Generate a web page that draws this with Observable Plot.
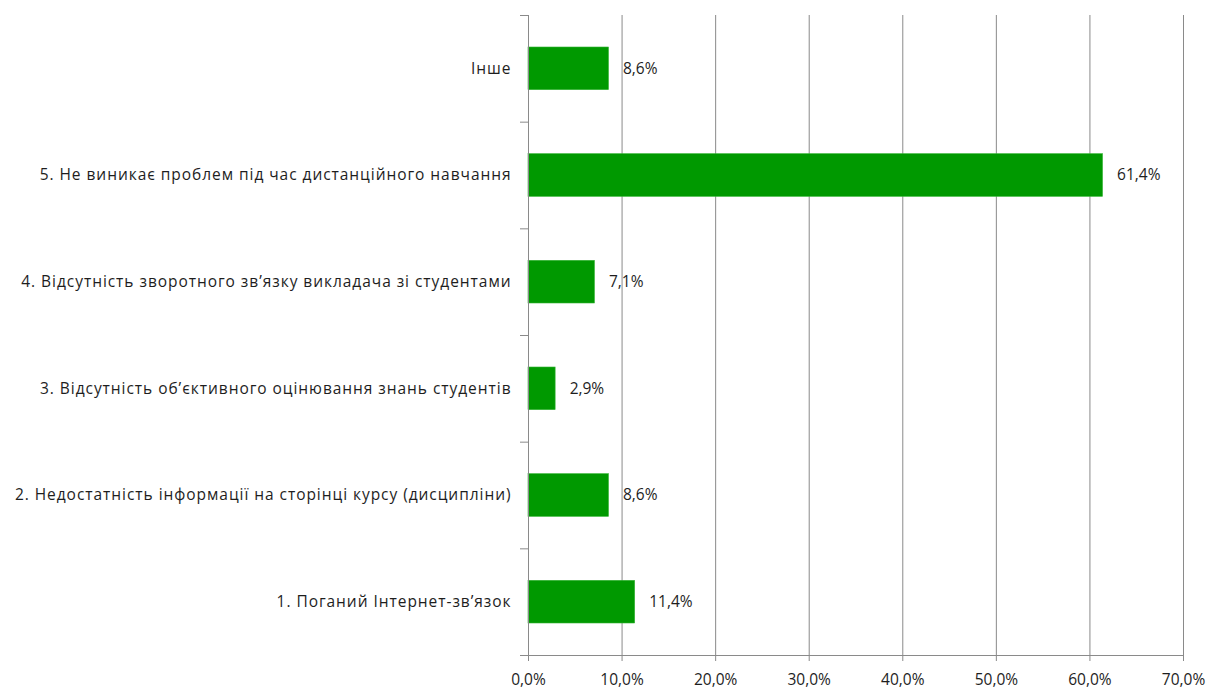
<!DOCTYPE html>
<html>
<head>
<meta charset="utf-8">
<script src="https://cdn.jsdelivr.net/npm/d3@7"></script>
<script src="https://cdn.jsdelivr.net/npm/@observablehq/plot@0.6"></script>
<style>
  html, body { margin: 0; padding: 0; background: #fff; }
  #chart svg { display: block; }
  .cat-label text { letter-spacing: 0.95px; }
</style>
</head>
<body>
<div id="chart"></div>
<script>
const categories = [
  "1. Поганий Інтернет-зв’язок",
  "2. Недостатність інформації на сторінці курсу (дисципліни)",
  "3. Відсутність об’єктивного оцінювання знань студентів",
  "4. Відсутність зворотного зв’язку викладача зі студентами",
  "5. Не виникає проблем під час дистанційного навчання",
  "Інше"
];
const values = [11.4, 8.6, 2.9, 7.1, 61.4, 8.6];
const xTicks = [0, 10, 20, 30, 40, 50, 60, 70];

const data = categories.map((c, i) => ({category: c, value: values[i], idx: i}));
const bounds = d3.range(categories.length + 1);
const fmt = v => d3.format(".1f")(v).replace(".", ",") + "%";

const font = "'Open Sans', Lato, sans-serif";
const gray = "#8a8a8a";
const txt = "#1e1e1e";
const fs = 15.5;

const chart = Plot.plot({
  width: 1209,
  height: 693,
  marginLeft: 528,
  marginRight: 26,
  marginTop: 15,
  marginBottom: 38,
  style: {fontFamily: font, fontSize: fs + "px", background: "#fff"},
  x: {domain: [0, 70]},
  y: {domain: [0, categories.length]},
  marks: [
    Plot.ruleX(xTicks.filter(t => t > 0), {y1: 0, y2: categories.length, stroke: gray, strokeWidth: 1}),
    Plot.rectX(data, {x1: 0, x2: "value", y1: d => d.idx + 0.3, y2: d => d.idx + 0.7, fill: "#009900", stroke: "#33b333", strokeWidth: 0.6}),
    Plot.ruleX([0], {y1: 0, y2: categories.length, stroke: gray}),
    Plot.ruleY([0], {x1: 0, x2: 70, stroke: gray}),
    Plot.axisX({ticks: xTicks, tickFormat: fmt, tickSize: 6, tickPadding: 12, stroke: gray, fill: txt, label: null, fontSize: fs}),
    Plot.axisY({ticks: bounds, tickFormat: () => "", tickSize: 8, stroke: gray, label: null}),
    Plot.text(data, {x: 0, y: d => d.idx + 0.5, text: "category", textAnchor: "end", dx: -17, fill: txt, fontSize: fs, className: "cat-label"}),
    Plot.text(data, {x: "value", y: d => d.idx + 0.5, text: d => fmt(d.value), textAnchor: "start", dx: 14, fill: txt, fontSize: fs})
  ]
});
document.getElementById("chart").appendChild(chart);
</script>
</body>
</html>
